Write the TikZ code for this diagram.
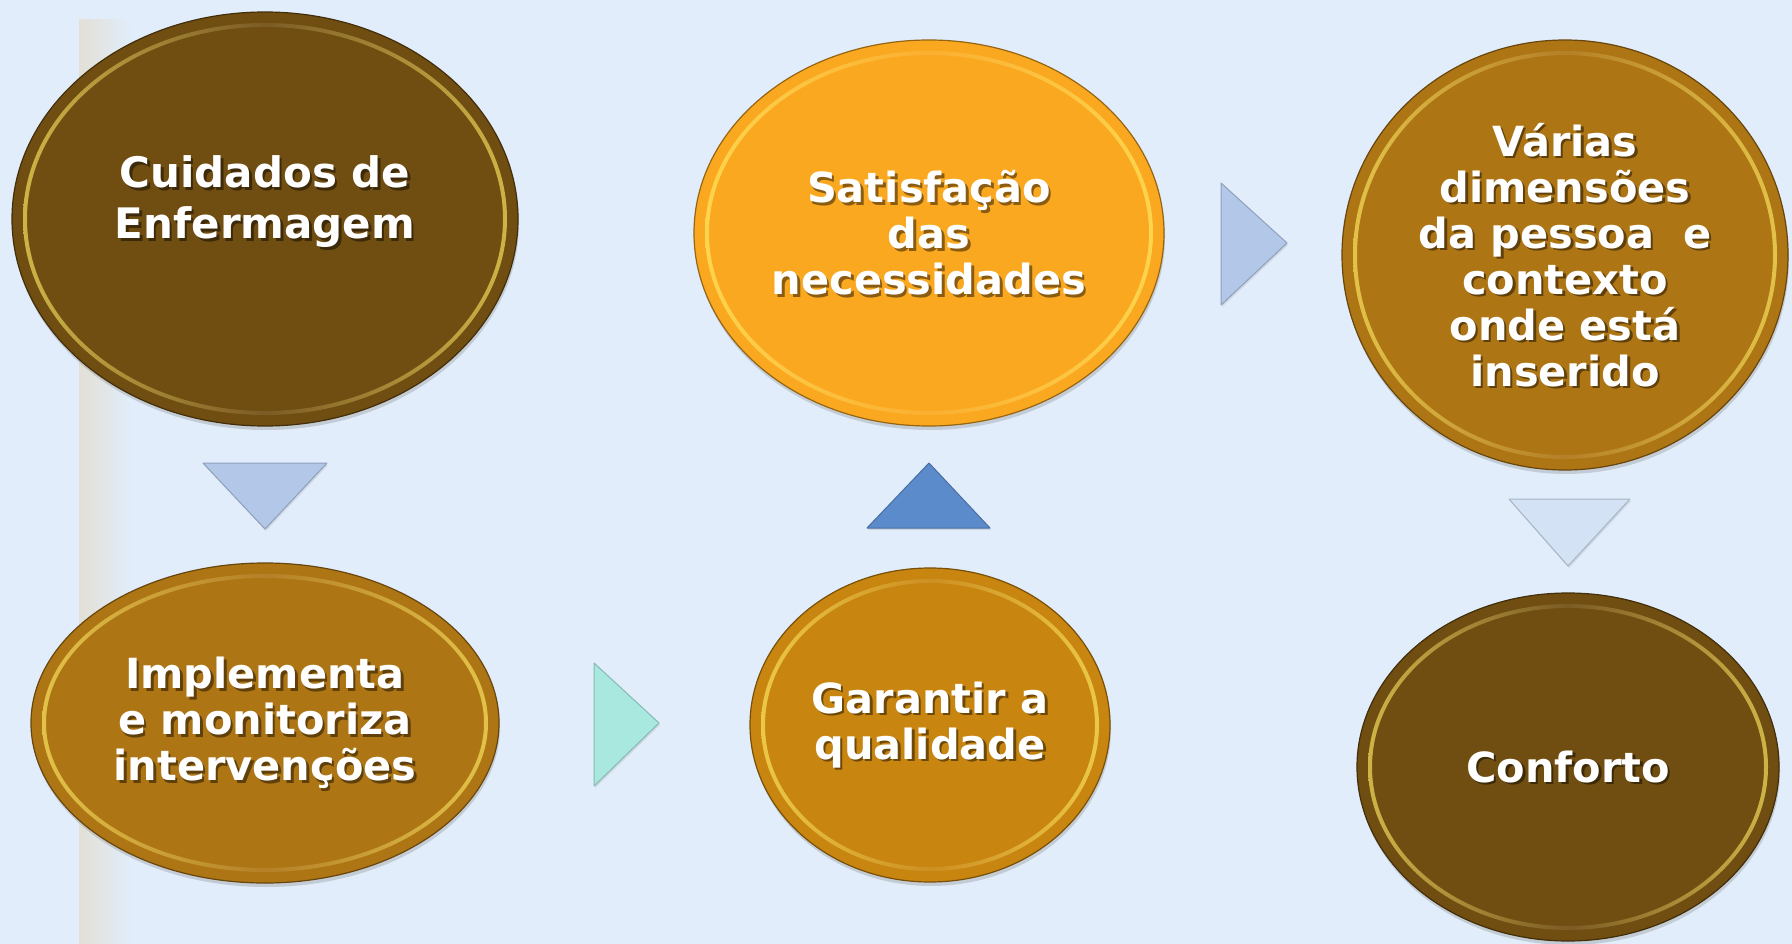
\documentclass[tikz,border=0pt]{standalone}
\usepackage{fontspec}
\setmainfont{DejaVu Sans}
\usetikzlibrary{shapes.geometric,shadows}

\definecolor{fundo}{RGB}{225,237,251}
\definecolor{faixa}{RGB}{226,224,214}
\definecolor{castanho}{RGB}{112,77,17}
\definecolor{ocre}{RGB}{174,117,21}
\definecolor{ocreclaro}{RGB}{200,133,15}
\definecolor{laranja}{RGB}{250,168,31}
\definecolor{dourado}{RGB}{255,236,100}
\definecolor{azulclaro}{RGB}{179,200,232}
\definecolor{azulpalido}{RGB}{211,226,244}
\definecolor{azulforte}{RGB}{91,139,203}
\definecolor{turquesa}{RGB}{168,232,223}

\tikzset{
  bolha/.style={ellipse, inner sep=0pt, fill=#1, draw=#1!60!black, line width=1.2pt,
    drop shadow={shadow xshift=1pt, shadow yshift=-4pt, opacity=0.3}},
  texto/.style={text=white, font=\bfseries\fontsize{41.5}{46}\selectfont, align=center, inner sep=0pt},
  sombra/.style={texto, text=black, text opacity=0.45},
  seta/.style={fill=#1, draw=#1!80!black, line width=1pt, line join=round,
    drop shadow={shadow xshift=1pt, shadow yshift=-2pt, opacity=0.2}}
}

% anel de brilho dentro da bolha
\newcommand{\brilho}[4]{%
  \shade[even odd rule, left color=#4!35!dourado, right color=#4!35!dourado, middle color=#4!92!white]
    (#1) ellipse [x radius=#2-11, y radius=#3-11] (#1) ellipse [x radius=#2-15, y radius=#3-15];}

% texto branco com sombra
\newcommand{\rotulo}[4][]{%
  \node[sombra, #1] (#2s) at ([shift={(2.5,2.5)}]#3) {#4};
  \node[texto, #1] (#2t) at (#3) {#4};}

\begin{document}
\begin{tikzpicture}[x=1pt, y=-1pt]
    \useasboundingbox (0,0) rectangle (1792,944);
    \fill[fundo] (0,0) rectangle (1792,944);
    \shade[left color=faixa, right color=fundo] (79,20) rectangle (132,944);

    % bolhas
    \node[bolha=castanho, minimum width=506pt, minimum height=414pt] (c1) at (265,219) {};
    \brilho{c1}{253}{207}{castanho}
    \node[bolha=ocre, minimum width=468pt, minimum height=320pt] (c2) at (265,723) {};
    \brilho{c2}{234}{160}{ocre}
    \node[bolha=ocreclaro, minimum width=360pt, minimum height=314pt] (c3) at (930,725) {};
    \brilho{c3}{180}{157}{ocreclaro}
    \node[bolha=laranja, minimum width=470pt, minimum height=386pt] (c4) at (929,233) {};
    \brilho{c4}{235}{193}{laranja}
    \node[bolha=ocre, minimum width=446pt, minimum height=430pt] (c5) at (1565,255) {};
    \brilho{c5}{223}{215}{ocre}
    \node[bolha=castanho, minimum width=422pt, minimum height=348pt] (c6) at (1568,767) {};
    \brilho{c6}{211}{174}{castanho}

    \rotulo[font=\bfseries\fontsize{42}{51}\selectfont]{c1}{265,202}{Cuidados de\\Enfermagem}
    \rotulo{c2}{c2}{Implementa\\e monitoriza\\intervenções}
    \rotulo{c3}{c3}{Garantir a\\qualidade}
    \rotulo{c4}{c4}{Satisfação\\das\\necessidades}
    \rotulo{c5}{c5}{Várias\\dimensões\\da pessoa~ e\\contexto\\onde está\\inserido}
    \rotulo{c6}{c6}{Conforto}

    % setas
    \filldraw[seta=azulclaro] (203,463) -- (327,463) -- (265,529) -- cycle;
    \filldraw[seta=turquesa] (594,663) -- (659,723) -- (594,786) -- cycle;
    \filldraw[seta=azulforte] (867,528) -- (990,528) -- (929,463) -- cycle;
    \filldraw[seta=azulclaro] (1221,183) -- (1287,243) -- (1221,305) -- cycle;
    \filldraw[seta=azulpalido] (1509,499) -- (1630,499) -- (1568,566) -- cycle;
  \end{tikzpicture}
\end{document}
